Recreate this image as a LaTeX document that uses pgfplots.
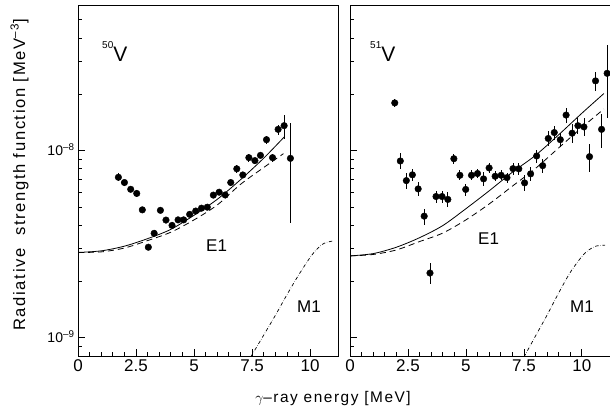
\documentclass[border=0pt]{standalone}
\usepackage{fontspec}
\setmainfont{Liberation Sans}
\newfontfamily\lblfont{Liberation Sans}[LetterSpace=10]
\usepackage{pgfplots}
\pgfplotsset{compat=1.18}

\begin{document}
\begin{tikzpicture}[x=1pt,y=1pt]
\useasboundingbox (0,0) rectangle (610,414);
\clip (0,0) rectangle (610,414);

% 50V
\begin{axis}[
    at={(78pt,58pt)}, anchor=south west,
    scale only axis, width=260pt, height=351pt,
    xmin=0, xmax=11.2, ymode=log, ymin=8e-10, ymax=6e-8,
    axis line style={line width=1pt},
    tick align=inside, xtick pos=left, ytick pos=left,
    xtick={0,2.5,5,7.5,10}, xticklabels={0,2.5,5,7.5,10},
    minor x tick num=4,
    ytick={1e-9,1e-8},
    yticklabels={10\textsuperscript{–9},10\textsuperscript{–8}},
    minor ytick={9e-10,2e-9,3e-9,4e-9,5e-9,6e-9,7e-9,8e-9,9e-9,2e-8,3e-8,4e-8,5e-8},
    major tick length=7pt, minor tick length=4pt,
    tick style={black, line width=0.8pt},
    xticklabel style={font=\fontsize{17}{17}\selectfont},
    yticklabel style={font=\fontsize{14}{14}\selectfont, yshift=1pt},
]
\addplot[only marks, mark=*, mark size=3.3pt, black,
    error bars/.cd, y dir=both, y explicit, error mark=none,
    error bar style={line width=0.9pt}] coordinates {
(1.74,7.21e-9) +- (0,0.35e-9)
(2.00,6.76e-9) +- (0,0.25e-9)
(2.27,6.22e-9) +- (0,0.23e-9)
(2.53,5.91e-9) +- (0,0.22e-9)
(2.77,4.83e-9) +- (0,0.18e-9)
(3.03,3.05e-9) +- (0,0.11e-9)
(3.28,3.62e-9) +- (0,0.13e-9)
(3.55,4.80e-9) +- (0,0.18e-9)
(3.79,4.26e-9) +- (0,0.16e-9)
(4.05,3.99e-9) +- (0,0.15e-9)
(4.31,4.27e-9) +- (0,0.16e-9)
(4.55,4.27e-9) +- (0,0.16e-9)
(4.81,4.57e-9) +- (0,0.17e-9)
(5.07,4.76e-9) +- (0,0.18e-9)
(5.32,4.93e-9) +- (0,0.18e-9)
(5.57,4.99e-9) +- (0,0.18e-9)
(5.83,5.79e-9) +- (0,0.21e-9)
(6.08,6.00e-9) +- (0,0.22e-9)
(6.34,5.80e-9) +- (0,0.21e-9)
(6.58,6.76e-9) +- (0,0.25e-9)
(6.84,8.00e-9) +- (0,0.39e-9)
(7.10,7.42e-9) +- (0,0.27e-9)
(7.36,9.18e-9) +- (0,0.45e-9)
(7.62,8.85e-9) +- (0,0.33e-9)
(7.86,9.44e-9) +- (0,0.35e-9)
(8.12,1.145e-8) +- (0,0.56e-9)
(8.38,9.18e-9) +- (0,0.45e-9)
(8.62,1.30e-8) +- (0,0.8e-9)
(8.88,1.36e-8) +- (0,2.0e-9)
(9.15,9.1e-9) +- (0,5.0e-9)
};
\addplot[black, line width=0.8pt, smooth] coordinates {
(0,2.86e-9) (1,2.917e-9) (2,3.09e-9) (3,3.39e-9) (4,3.80e-9) (5,4.52e-9)
(6,5.50e-9) (7,7.00e-9) (8,9.12e-9) (8.9,1.19e-8)};
\addplot[black, line width=0.8pt, smooth, dash pattern=on 6pt off 4pt] coordinates {
(0,2.86e-9) (1,2.88e-9) (2,3.02e-9) (3,3.31e-9) (4,3.67e-9) (5,4.27e-9)
(6,5.13e-9) (7,6.61e-9) (8,8.13e-9) (8.85,9.64e-9)};
\addplot[black, line width=0.7pt, smooth, dash pattern=on 3.5pt off 1.8pt on 0.3pt off 1.8pt] coordinates {
(7.45,7.94e-10) (8.0,1.035e-9) (8.5,1.318e-9) (9.0,1.70e-9) (9.5,2.163e-9)
(10.0,2.69e-9) (10.3,2.985e-9) (10.6,3.20e-9) (10.95,3.29e-9)};
\end{axis}

% 51V
\begin{axis}[
    at={(350pt,58pt)}, anchor=south west,
    scale only axis, width=262pt, height=351pt,
    xmin=0, xmax=11.3, ymode=log, ymin=8e-10, ymax=6e-8,
    axis line style={line width=1pt},
    tick align=inside, xtick pos=left, ytick pos=left,
    xtick={0,2.5,5,7.5,10}, xticklabels={0,2.5,5,7.5,10},
    minor x tick num=4,
    ytick={1e-9,1e-8}, yticklabels={},
    minor ytick={9e-10,2e-9,3e-9,4e-9,5e-9,6e-9,7e-9,8e-9,9e-9,2e-8,3e-8,4e-8,5e-8},
    major tick length=7pt, minor tick length=4pt,
    tick style={black, line width=0.8pt},
    xticklabel style={font=\fontsize{17}{17}\selectfont},
]
\addplot[only marks, mark=*, mark size=3.3pt, black,
    error bars/.cd, y dir=both, y explicit, error mark=none,
    error bar style={line width=0.9pt}] coordinates {
(1.93,1.80e-8) +- (0,0.88e-9)
(2.17,8.81e-9) +- (0,0.86e-9)
(2.43,6.92e-9) +- (0,0.64e-9)
(2.69,7.43e-9) +- (0,0.55e-9)
(2.94,6.25e-9) +- (0,0.54e-9)
(3.20,4.47e-9) +- (0,0.44e-9)
(3.45,2.22e-9) +- (0,0.29e-9)
(3.71,5.69e-9) +- (0,0.42e-9)
(3.97,5.69e-9) +- (0,0.42e-9)
(4.22,5.49e-9) +- (0,0.50e-9)
(4.48,9.06e-9) +- (0,0.55e-9)
(4.74,7.39e-9) +- (0,0.45e-9)
(4.99,6.21e-9) +- (0,0.46e-9)
(5.24,7.39e-9) +- (0,0.45e-9)
(5.50,7.55e-9) +- (0,0.42e-9)
(5.76,7.07e-9) +- (0,0.58e-9)
(6.00,8.09e-9) +- (0,0.50e-9)
(6.26,7.30e-9) +- (0,0.45e-9)
(6.52,7.39e-9) +- (0,0.45e-9)
(6.77,7.18e-9) +- (0,0.44e-9)
(7.03,8.02e-9) +- (0,0.62e-9)
(7.28,8.00e-9) +- (0,0.59e-9)
(7.53,6.73e-9) +- (0,0.66e-9)
(7.79,7.52e-9) +- (0,0.62e-9)
(8.05,9.37e-9) +- (0,0.77e-9)
(8.31,8.32e-9) +- (0,0.68e-9)
(8.55,1.162e-8) +- (0,1.07e-9)
(8.81,1.25e-8) +- (0,1.03e-9)
(9.07,1.145e-8) +- (0,1.05e-9)
(9.32,1.55e-8) +- (0,1.46e-9)
(9.58,1.24e-8) +- (0,1.44e-9)
(9.83,1.36e-8) +- (0,1.30e-9)
(10.09,1.34e-8) +- (0,1.48e-9)
(10.33,9.29e-9) +- (0,1.6e-9)
(10.59,2.36e-8) +- (0,2.75e-9)
(10.85,1.30e-8) +- (0,2.7e-9)
(11.09,2.59e-8) +- (0,1.1e-8)
};
\addplot[black, line width=0.8pt, smooth] coordinates {
(0,2.74e-9) (1,2.82e-9) (2,3.05e-9) (3,3.43e-9) (4,3.98e-9) (5,4.90e-9)
(6,6.10e-9) (7,7.67e-9) (8,9.44e-9) (9,1.216e-8) (10,1.585e-8) (10.95,2.02e-8)};
\addplot[black, line width=0.8pt, smooth, dash pattern=on 6pt off 4pt] coordinates {
(0,2.74e-9) (1,2.79e-9) (2,2.95e-9) (3,3.27e-9) (4,3.63e-9) (5,4.27e-9)
(6,5.19e-9) (7,6.46e-9) (8,8.04e-9) (9,1.035e-8) (10,1.33e-8) (10.95,1.67e-8)};
\addplot[black, line width=0.7pt, smooth, dash pattern=on 3.5pt off 1.8pt on 0.3pt off 1.8pt] coordinates {
(7.5,7.89e-10) (8.0,1.023e-9) (8.5,1.324e-9) (9.0,1.738e-9) (9.5,2.239e-9)
(10.0,2.72e-9) (10.3,2.95e-9) (10.6,3.09e-9) (11.0,3.13e-9)};
\end{axis}

% panel labels
\node[anchor=base west, inner sep=0] at (102,352)
  {\fontsize{10}{10}\selectfont\raisebox{13pt}{50}\fontsize{21}{21}\selectfont V};
\node[anchor=base west, inner sep=0] at (370,352)
  {\fontsize{10}{10}\selectfont\raisebox{13pt}{51}\fontsize{21}{21}\selectfont V};
\node[anchor=base west, inner sep=0, font=\fontsize{17}{17}\selectfont] at (206,162) {E1};
\node[anchor=base west, inner sep=0, font=\fontsize{17}{17}\selectfont] at (478,169) {E1};
\node[anchor=base west, inner sep=0, font=\fontsize{17}{17}\selectfont] at (297,101) {M1};
\node[anchor=base west, inner sep=0, font=\fontsize{17}{17}\selectfont] at (570,101) {M1};

% axis titles
\node[anchor=base, inner sep=0, font=\lblfont\fontsize{15.4}{15.4}\selectfont] at (333,11)
  {$\gamma$–ray energy [MeV]};
\node[anchor=base, inner sep=0, rotate=90, font=\lblfont\fontsize{16.6}{16.6}\selectfont] at (25,239)
  {Radiative\ \ strength function [MeV\textsuperscript{–3}]};
\end{tikzpicture}
\end{document}
